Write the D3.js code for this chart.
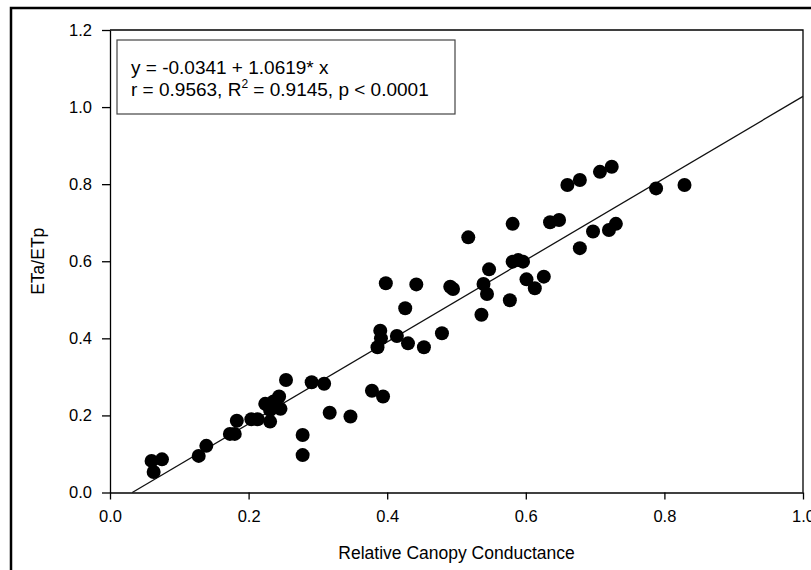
<!DOCTYPE html>
<html>
<head>
<meta charset="utf-8">
<script src="https://cdn.jsdelivr.net/npm/d3@7.9.0/dist/d3.min.js"></script>
<style>
  body { margin: 0; background: #fff; }
  svg { display: block; font-family: "Liberation Sans", Arial, sans-serif; }
  .tick text { fill: #000; }
</style>
</head>
<body>
<svg id="chart" width="811" height="570"></svg>
<script>
// relative canopy conductance (x) vs ETa/ETp (y)
const conductance = [
  0.060, 0.075, 0.063, 0.128, 0.139, 0.173, 0.180, 0.183, 0.204, 0.213,
  0.231, 0.224, 0.236, 0.244, 0.246, 0.231, 0.254, 0.291, 0.309, 0.317,
  0.347, 0.278, 0.278, 0.378, 0.394, 0.398, 0.442, 0.491, 0.495, 0.547,
  0.539, 0.544, 0.536, 0.577, 0.601, 0.613, 0.626, 0.581, 0.589, 0.596,
  0.426, 0.390, 0.391, 0.386, 0.414, 0.430, 0.453, 0.479, 0.517, 0.581,
  0.635, 0.648, 0.660, 0.678, 0.707, 0.724, 0.697, 0.720, 0.730, 0.678,
  0.788, 0.829
];
const etRatio = [
  0.082, 0.086, 0.053, 0.095, 0.121, 0.152, 0.152, 0.186, 0.190, 0.190,
  0.184, 0.230, 0.236, 0.249, 0.217, 0.214, 0.292, 0.286, 0.282, 0.207,
  0.197, 0.149, 0.097, 0.264, 0.249, 0.543, 0.540, 0.534, 0.528, 0.579,
  0.541, 0.515, 0.461, 0.499, 0.553, 0.530, 0.560, 0.599, 0.603, 0.599,
  0.478, 0.420, 0.400, 0.377, 0.406, 0.387, 0.377, 0.413, 0.662, 0.697,
  0.701, 0.707, 0.798, 0.811, 0.832, 0.845, 0.677, 0.681, 0.697, 0.634,
  0.789, 0.798
];

const xTicks = [0.0, 0.2, 0.4, 0.6, 0.8, 1.0];
const yTicks = [0.0, 0.2, 0.4, 0.6, 0.8, 1.0, 1.2];

// fitted line from the original figure
const intercept = -0.0341;
const slope = 1.0619;
const statLines = ['y = -0.0341 + 1.0619* x', 'r = 0.9563, R', '2', ' = 0.9145, p < 0.0001'];

const svg = d3.select('#chart');
const plotL = 110, plotR = 803, plotT = 30, plotB = 492.5;

const x = d3.scaleLinear().domain([0, 1]).range([plotL, plotR]);
const y = d3.scaleLinear().domain([0, 1.2]).range([plotB, plotT]);

// outer frame (runs off the right and bottom of the crop)
svg.append('rect')
  .attr('x', 11).attr('y', 8)
  .attr('width', 840).attr('height', 620)
  .attr('fill', 'none').attr('stroke', '#000').attr('stroke-width', 2.5);

// plot box top and right
svg.append('path')
  .attr('d', `M${plotL},${plotT}H${plotR}V${plotB}`)
  .attr('fill', 'none').attr('stroke', '#000').attr('stroke-width', 1.3);

const xAxis = svg.append('g')
  .attr('transform', `translate(0,${plotB})`)
  .call(d3.axisBottom(x).tickValues(xTicks).tickFormat(d3.format('.1f'))
    .tickSize(7).tickSizeOuter(0).tickPadding(11));
xAxis.selectAll('text').attr('font-size', 16.5);

const yAxis = svg.append('g')
  .attr('transform', `translate(${plotL},0)`)
  .call(d3.axisLeft(y).tickValues(yTicks).tickFormat(d3.format('.1f'))
    .tickSize(8).tickSizeOuter(0).tickPadding(10));
yAxis.selectAll('text').attr('font-size', 16.5);

svg.selectAll('.domain, .tick line').attr('stroke', '#000').attr('stroke-width', 1.3);
svg.selectAll('.tick text').attr('font-family', '"Liberation Sans", Arial, sans-serif');

// regression line from y = 0 up to x = 1
const x0 = -intercept / slope;
svg.append('line')
  .attr('x1', x(x0)).attr('y1', y(intercept + slope * x0))
  .attr('x2', x(1)).attr('y2', y(intercept + slope * 1))
  .attr('stroke', '#111').attr('stroke-width', 1.3);

// points
svg.append('g')
  .selectAll('circle')
  .data(d3.zip(conductance, etRatio))
  .join('circle')
  .attr('cx', d => x(d[0]))
  .attr('cy', d => y(d[1]))
  .attr('r', 7)
  .attr('fill', '#000');

// stats box
svg.append('rect')
  .attr('x', 117).attr('y', 40)
  .attr('width', 338).attr('height', 74)
  .attr('fill', '#fff').attr('stroke', '#444').attr('stroke-width', 1.2);

svg.append('text')
  .attr('x', 131).attr('y', 74)
  .attr('font-size', 19)
  .text(statLines[0]);

const line2 = svg.append('text')
  .attr('x', 131).attr('y', 96)
  .attr('font-size', 19);
line2.append('tspan').text(statLines[1]);
line2.append('tspan').attr('dy', -8).attr('font-size', 12).text(statLines[2]);
line2.append('tspan').attr('dy', 8).text(statLines[3]);

// axis titles
svg.append('text')
  .attr('x', x(0.5)).attr('y', 559)
  .attr('text-anchor', 'middle')
  .attr('font-size', 17.5)
  .text('Relative Canopy Conductance');

svg.append('text')
  .attr('transform', `translate(44,${y(0.6)}) rotate(-90)`)
  .attr('text-anchor', 'middle')
  .attr('font-size', 17.5)
  .text('ETa/ETp');
</script>
</body>
</html>
